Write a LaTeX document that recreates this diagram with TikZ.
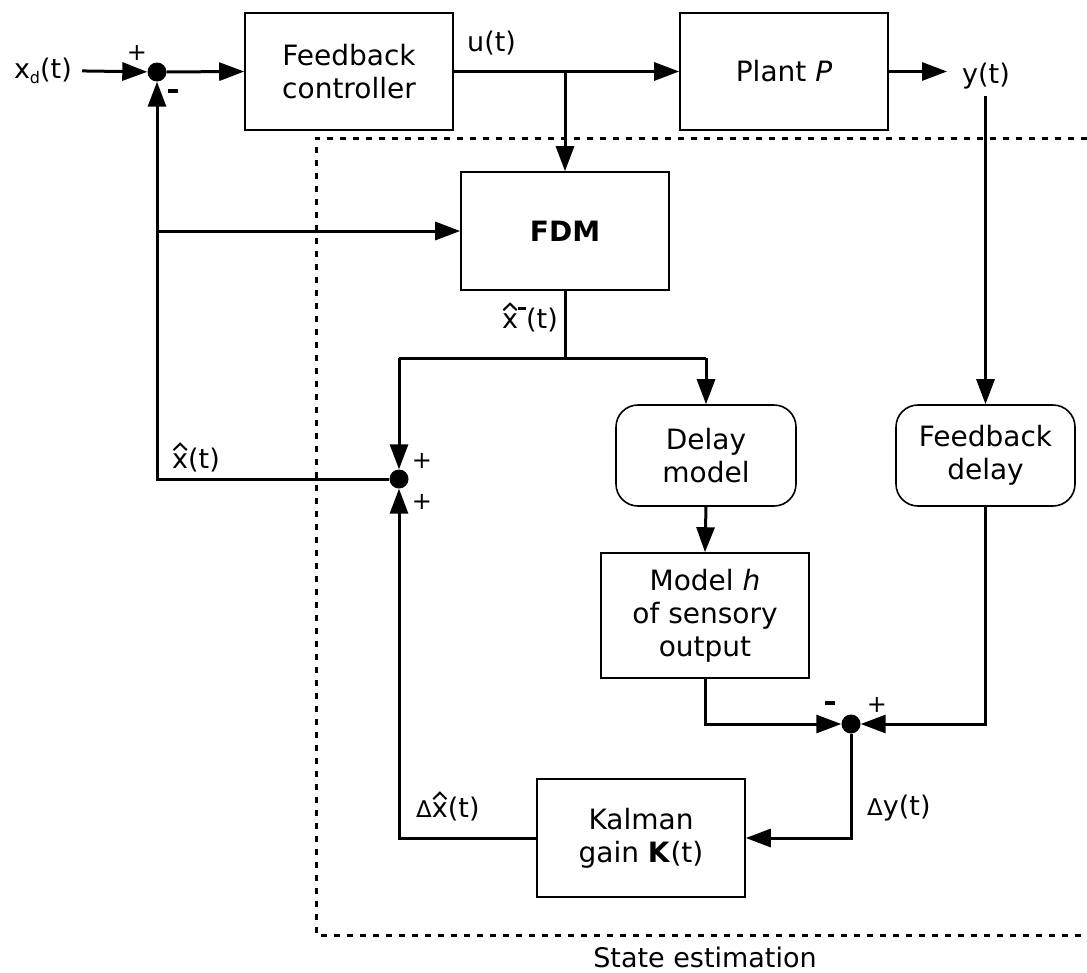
\documentclass[tikz,border=0pt]{standalone}
\usepackage{fontspec}
\setmainfont{DejaVu Sans}
\usetikzlibrary{arrows.meta}
\newcommand{\sz}{\fontsize{28}{33}\selectfont}
\newcommand{\lsz}{\fontsize{27}{33}\selectfont}
\newcommand{\smallsz}{\fontsize{24}{24}\selectfont}
% x with a wide hat
\newcommand{\xhat}{\rlap{\tikz[overlay,baseline=0pt,x=1em,y=1em]\draw[line width=0.075em,line join=miter,black] (0.05,0.66)--(0.296,0.9)--(0.54,0.66);}x}
\newcommand{\dlt}{{\fontsize{23}{23}\selectfont Δ}}
\newcommand{\minussign}{\rule{10pt}{3.5pt}}
\begin{document}
\begin{tikzpicture}[x=1pt,y=-1pt,
  every node/.style={font=\sz},
  blk/.style={draw, line width=1.6pt, minimum width=208pt, minimum height=117pt, align=center, inner sep=0pt},
  rblk/.style={blk, rounded corners=22pt, minimum width=180pt, minimum height=101pt},
  conn/.style={line width=3pt},
  arr/.style={conn, -{Triangle[length=25pt,width=18pt]}},
  sumdot/.style={circle, fill, inner sep=0pt, minimum size=19pt},
  sgn/.style={font=\smallsz, inner sep=0pt},
  lbl/.style={inner sep=0pt, font=\lsz, anchor=base west},
  frame/.style={line width=3pt, dash pattern=on 6pt off 7pt}
]
\useasboundingbox (0,0) rectangle (1087,972);

% blocks
\node[blk] (fc) at (349,71.5) {Feedback\\controller};
\node[blk] (plant) at (784,71.5) {Plant \textit{P}};
\node[blk, minimum height=118pt] (fdm) at (565,231) {\textbf{FDM}};
\node[rblk] (dm) at (706,455.5) {Delay\\model};
\node[rblk, minimum width=179pt] (fbd) at (985.5,455.5) {Feedback\\delay};
\node[blk, minimum height=125pt] (mh) at (705,615.5) {Model \textit{h}\\of sensory\\output};
\node[blk, minimum height=118pt] (kal) at (641,838) {Kalman\\gain \textbf{K}(t)};

% summing points
\node[sumdot] (s1) at (157,72) {};
\node[sumdot] (s2) at (399,479) {};
\node[sumdot] (s3) at (851,724) {};

% signals
\node[lbl, inner xsep=10pt, anchor=base east] (xd) at (82,78) {x\raisebox{-5pt}{\fontsize{16}{16}\selectfont d}(t)};
\node[lbl, inner xsep=15pt, inner ysep=7pt] (y) at (947,83) {y(t)};
\node[lbl] (u) at (467,51) {u(t)};
\node[lbl, anchor=base east] (xm) at (558,328) {\xhat\rule[0.68em]{0.3em}{0.11em}(t)};
\node[lbl] (xh) at (172,468) {\xhat(t)};
\node[lbl] (dx) at (416,817) {\dlt\xhat(t)};
\node[lbl] (dy) at (867,815) {\dlt y(t)};
\node[lbl, anchor=base, text depth=0pt] (se) at (705,967) {State estimation};

% signs at the summing points
\node[sgn] (p1) at (137,53) {+};
\node[sgn] (m1) at (173,91) {\minussign};
\node[sgn] (p2) at (422,461) {+};
\node[sgn] (p3) at (422,502) {+};
\node[sgn] (m3) at (830,703) {\minussign};
\node[sgn] (p4) at (877,705) {+};

% branch points
\coordinate (xb) at (157,479);
\coordinate (xf) at (157,231);
\coordinate (split) at (565,358);
\coordinate (sl) at (399,358);
\coordinate (sr) at (706,358);

% forward path
\draw[arr] (xd) -- (s1);
\draw[arr] (s1) -- (fc.west);
\draw[arr] (fc.east) -- (plant.west);
\draw[arr] (fdm.north |- fc.east) -- (fdm.north);
\draw[arr] (plant.east) -- (y.west |- plant.east);
\draw[arr] (fbd.north |- y.south) -- (fbd.north);

% estimate fed back
\draw[arr] (s2) -- (xb) -- (s1);
\draw[arr] (xf) -- (fdm.west);

% prediction branch
\draw[conn] (fdm.south) -- (split);
\draw[conn] (sl) -- (sr);
\draw[arr] (sl) -- (s2);
\draw[arr] (sr) -- (dm.north);
\draw[arr] (dm.south) -- (mh.north);

% innovation
\draw[arr] (mh.south) |- (s3);
\draw[arr] (fbd.south) |- (s3);
\draw[arr] (s3) |- (kal.east);
\draw[arr] (kal.west) -| (s2);

% state estimation frame
\draw[frame] (1087,138) -- (316,138) -- (316,935) -- (1087,935);
\end{tikzpicture}
\end{document}
